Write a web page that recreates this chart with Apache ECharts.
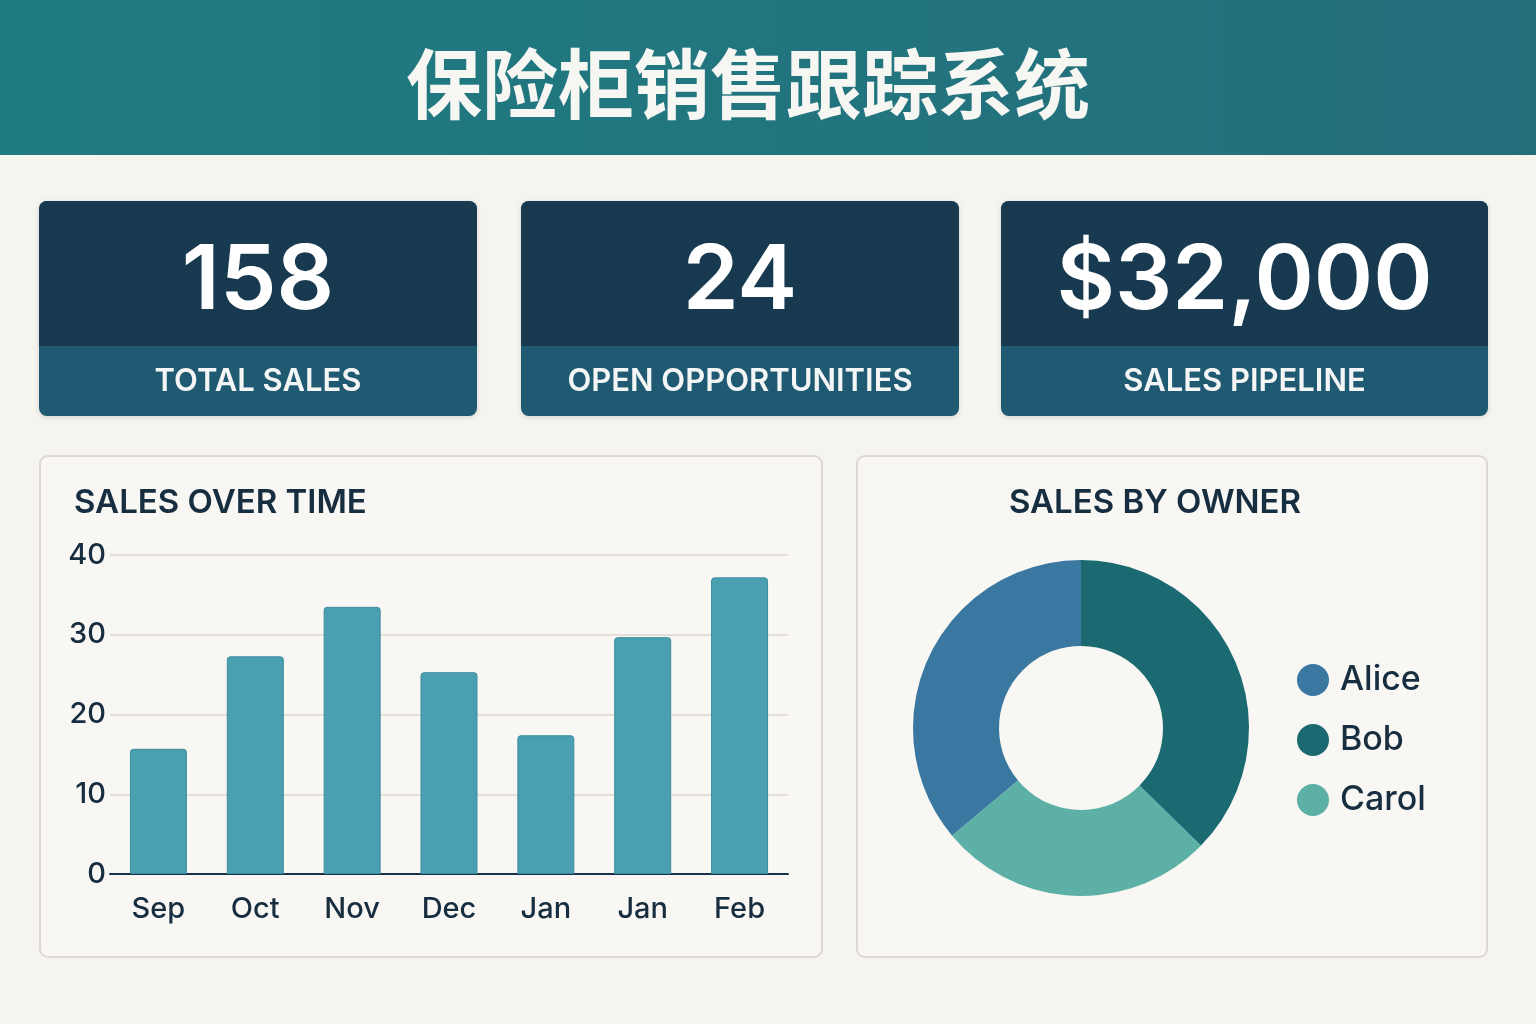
<!DOCTYPE html>
<html><head><meta charset="utf-8">
<script src="https://cdn.jsdelivr.net/npm/echarts@6/dist/echarts.min.js"></script>
<style>html,body{margin:0;padding:0;background:#f6f4ef}#c{width:1536px;height:1024px}</style>
</head><body><div id="c"></div>
<script>
const months = ['Sep','Oct','Nov','Dec','Jan','Jan','Feb'];
const monthlySales = [15.7, 27.3, 33.5, 25.3, 17.4, 29.7, 37.2];
const yTicks = [0, 10, 20, 30, 40];
const owners = ['Alice','Bob','Carol'];
const ownerSales = [57, 59, 42];
const ownerColors = ['#3b78a1','#1b6a72','#5cb0a6'];
const kpiValues = ['158','24','$32,000'];
const kpiLabels = ['TOTAL SALES','OPEN OPPORTUNITIES','SALES PIPELINE'];
const titleText = '保险柜销售跟踪系统';

const FONT = 'Inter, "Noto Sans", "Noto Sans CJK SC", sans-serif';
const chart = echarts.init(document.getElementById('c'));

const cards = [[39,477],[521,959],[1001,1488]];
const graphics = [
  {type:'rect', shape:{x:0,y:0,width:1536,height:155},
   style:{fill:new echarts.graphic.LinearGradient(0,0,1,0,[{offset:0,color:'#1f7c81'},{offset:1,color:'#246e7c'}])}},
  {type:'text', x:748, y:84, style:{text:titleText, fill:'#f6f6f2', font:'bold 76px "Noto Sans CJK SC", sans-serif',
    textAlign:'center', textVerticalAlign:'middle', shadowColor:'rgba(0,0,0,0.35)', shadowBlur:3, shadowOffsetX:2, shadowOffsetY:2}},
  // panels
  {type:'rect', shape:{x:40,y:456,width:782,height:501,r:8}, style:{fill:'#f9f7f3', stroke:'#dcd9d3', lineWidth:2}},
  {type:'rect', shape:{x:857,y:456,width:630,height:501,r:8}, style:{fill:'#f9f7f3', stroke:'#dcd9d3', lineWidth:2}},
  {type:'text', x:74, y:503, style:{text:'SALES OVER TIME', fill:'#172d40', font:'600 33px '+FONT, textVerticalAlign:'middle'}},
  {type:'text', x:1155, y:503, style:{text:'SALES BY OWNER', fill:'#172d40', font:'600 33px '+FONT, textAlign:'center', textVerticalAlign:'middle'}}
];
cards.forEach((c,i)=>{
  const w = c[1]-c[0];
  const cx = (c[0]+c[1])/2;
  graphics.push({type:'rect', shape:{x:c[0],y:201,width:w,height:215,r:8}, style:{fill:'#1f5a72', shadowColor:'rgba(0,0,0,0.15)', shadowBlur:4, shadowOffsetY:1}});
  graphics.push({type:'rect', shape:{x:c[0],y:201,width:w,height:145,r:[8,8,0,0]}, style:{fill:'#183a51'}});
  graphics.push({type:'text', x:cx, y:282, style:{text:kpiValues[i], fill:'#ffffff', font:'600 90px '+FONT, textAlign:'center', textVerticalAlign:'middle'}});
  graphics.push({type:'text', x:cx, y:382, style:{text:kpiLabels[i], fill:'#f4f6f6', font:'600 31px '+FONT, textAlign:'center', textVerticalAlign:'middle'}});
});

chart.setOption({
  backgroundColor:'#f6f4ef',
  animation:false,
  graphic: graphics,
  grid:{left:110, right:748, top:555, bottom:150},
  xAxis:{type:'category', data:months,
    axisLine:{show:true, lineStyle:{color:'#17324a', width:2}},
    axisTick:{show:false},
    axisLabel:{color:'#172d40', fontSize:29, fontWeight:500, fontFamily:FONT, margin:21}},
  yAxis:{type:'value', min:yTicks[0], max:yTicks[yTicks.length-1], interval:10,
    axisLine:{show:false}, axisTick:{show:false},
    splitLine:{lineStyle:{color:'#e2dfd8', width:2}},
    axisLabel:{color:'#172d40', fontSize:29, fontWeight:500, fontFamily:FONT, margin:4}},
  legend:{orient:'vertical', left:1292, top:658, icon:'circle', itemWidth:32, itemHeight:32, itemGap:26,
    data:owners, textStyle:{color:'#172d40', fontSize:34, fontWeight:500, fontFamily:FONT, padding:[0,0,0,6]}},
  series:[
    {type:'bar', data:monthlySales, barWidth:57,
     itemStyle:{color:'#4a9fb1', borderColor:'#3d8d9e', borderWidth:1, borderRadius:[3,3,0,0]}},
    {type:'pie', center:[1081,728], radius:[82,168], startAngle:90, clockwise:false,
     label:{show:false}, labelLine:{show:false}, silent:true,
     data:[
       {name:owners[0], value:ownerSales[0], itemStyle:{color:ownerColors[0]}},
       {name:owners[2], value:ownerSales[2], itemStyle:{color:ownerColors[2]}},
       {name:owners[1], value:ownerSales[1], itemStyle:{color:ownerColors[1]}}
     ]}
  ]
});
</script></body></html>
